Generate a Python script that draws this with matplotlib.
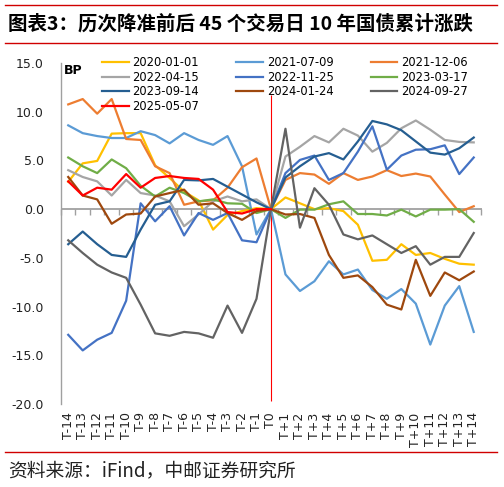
import matplotlib
matplotlib.use("Agg")
import matplotlib.pyplot as plt
from matplotlib.lines import Line2D

# x categories: T-14 ... T0 ... T+14
days = [f"T-{i}" for i in range(14, 0, -1)] + ["T0"] + [f"T+{i}" for i in range(1, 15)]

# cumulative change of 10Y CGB yield (BP) around each RRR cut
s_20200101 = [2.8, 4.7, 4.95, 7.75, 7.8, 7.8, 4.5, 3.2, 1.8, 0.9, -2.1, -0.6, -0.2, 0.1, 0,
              1.2, 0.6, 0.0, 0.1, -0.2, -1.6, -5.3, -5.2, -3.6, -4.7, -4.5, -5.1, -5.6, -5.7]
s_20210709 = [8.6, 7.8, 7.5, 7.3, 7.3, 8.0, 7.6, 6.75, 7.8, 7.1, 6.6, 7.5, 4.4, -2.6, 0,
              -6.7, -8.4, -7.4, -5.35, -6.7, -6.2, -8.3, -9.2, -8.2, -9.7, -13.9, -9.9, -7.9, -12.6]
s_20211206 = [10.75, 11.3, 9.8, 11.3, 7.2, 7.1, 4.4, 3.7, 0.45, 0.8, 0.9, 2.2, 4.3, 5.2, 0,
              3.0, 3.7, 3.55, 2.6, 3.7, 3.0, 3.35, 4.0, 3.4, 3.65, 3.35, 1.5, -0.3, 0.3]
s_20220415 = [4.0, 3.3, 2.85, 1.4, 3.0, 1.65, 1.4, 0.8, -1.75, -0.55, 0.8, 1.3, 0.8, 1.0, 0,
              5.4, 6.4, 7.5, 6.85, 8.25, 7.55, 5.9, 6.8, 8.3, 9.1, 8.15, 7.1, 6.9, 6.85]
s_20221125 = [-12.9, -14.5, -13.4, -12.7, -9.4, 0.6, -1.25, 0.3, -2.7, -0.4, -1.1, -0.4, -3.2, -3.4, 0,
              3.7, 5.05, 5.5, 3.0, 3.7, 5.9, 8.5, 4.05, 5.5, 6.1, 6.15, 6.55, 3.6, 5.3]
s_20230317 = [5.3, 4.4, 3.7, 5.1, 4.2, 2.4, 1.3, 2.2, 1.65, 0.8, 1.0, 0.6, 0.55, -0.4, 0,
              -0.9, -0.05, -0.05, 0.5, 0.8, -0.5, -0.5, -0.65, -0.05, -0.75, -0.05, -0.05, 0.0, -1.3]
s_20230914 = [-3.6, -2.3, -3.6, -4.7, -4.9, -2.1, 0.45, 0.8, 3.0, 2.95, 3.1, 2.3, 1.5, 0.7, 0,
              3.25, 4.4, 5.4, 5.75, 5.1, 6.95, 9.05, 8.7, 8.1, 6.95, 5.8, 5.6, 6.25, 7.35]
s_20240124 = [3.3, 1.4, 1.0, -1.5, -0.55, -0.45, 1.3, 1.65, 2.0, 0.45, 0.6, -0.4, -1.1, -0.2, 0,
              -0.55, -0.5, -0.9, -4.7, -7.05, -6.8, -8.0, -9.8, -10.3, -5.2, -8.9, -6.5, -7.3, -6.4]
s_20240927 = [-3.2, -4.5, -5.7, -6.5, -7.05, -9.8, -12.75, -13.0, -12.6, -12.75, -13.2, -9.9, -12.7, -9.2, 0,
              8.25, -1.9, 2.15, 0.45, -2.6, -3.1, -2.7, -3.6, -4.5, -3.8, -5.7, -4.9, -4.9, -2.45]
s_20250507 = [2.85, 1.4, 2.2, 2.0, 3.6, 2.2, 3.2, 3.4, 3.2, 3.1, 2.0, -0.3, -0.45, 0.0, 0]

series = [
    ("2020-01-01", s_20200101, "#FFC000"),
    ("2021-07-09", s_20210709, "#5B9BD5"),
    ("2021-12-06", s_20211206, "#ED7D31"),
    ("2022-04-15", s_20220415, "#A5A5A5"),
    ("2022-11-25", s_20221125, "#4472C4"),
    ("2023-03-17", s_20230317, "#70AD47"),
    ("2023-09-14", s_20230914, "#255E91"),
    ("2024-01-24", s_20240124, "#9E480E"),
    ("2024-09-27", s_20240927, "#636363"),
    ("2025-05-07", s_20250507, "#FF0000"),
]

W, H = 504, 487
fig = plt.figure(figsize=(W / 100, H / 100), dpi=100)
ax = fig.add_axes([60.7 / W, 1 - 404 / H, 421 / W, 341 / H])

x = list(range(len(days)))

# zero axis drawn first so the series sit on top of it
ax.axhline(0, color="#A0A0A0", lw=1.3, zorder=1)

lines = {}
for name, vals, col in series:
    ln, = ax.plot(x[:len(vals)], vals, color=col, lw=1.6, label=name, zorder=2)
    lines[name] = ln

# vertical marker at T0
ax.vlines(14, -19.7, 11.7, color="red", lw=0.8, zorder=1.5)

ax.set_xlim(-0.52, 28.55)
ax.set_ylim(-20, 15)
ax.set_yticks([15, 10, 5, 0, -5, -10, -15, -20])
ax.set_yticklabels([f"{v:.1f}" for v in [15, 10, 5, 0, -5, -10, -15, -20]])
ax.tick_params(axis="y", length=0, pad=12, labelsize=9, colors="#222222")
ax.set_xticks(x)
ax.set_xticklabels(days, rotation=90, va="top", ha="center")
ax.tick_params(axis="x", length=0, pad=6, labelsize=9, colors="#222222")

for s in ["top", "right", "bottom"]:
    ax.spines[s].set_visible(False)
ax.spines["left"].set_color("#A0A0A0")
ax.spines["left"].set_linewidth(1.0)

# small tick marks on the zero axis, between categories, pointing down
zx = ax.secondary_xaxis(20 / 35)
zx.set_xticks([k + 0.5 for k in range(-1, 29)])
zx.set_xticklabels([])
zx.tick_params(axis="x", which="both", direction="in", length=4, width=1, color="#A0A0A0")
for s in zx.spines.values():
    s.set_visible(False)

order = ["2020-01-01", "2022-04-15", "2023-09-14", "2025-05-07",
         "2021-07-09", "2022-11-25", "2024-01-24",
         "2021-12-06", "2023-03-17", "2024-09-27"]
ax.legend([lines[n] for n in order], order, ncol=3, loc="upper left",
          bbox_to_anchor=(102 / W, 1 - 56 / H), bbox_transform=fig.transFigure,
          frameon=False, fontsize=8.3, borderpad=0, borderaxespad=0,
          handlelength=2.3, handletextpad=0.35, columnspacing=3.2, labelspacing=0.15)

fig.text(64 / W, 1 - 64 / H, "BP", fontsize=9, fontweight="bold", va="top", ha="left")

# header / footer
cjk = ["Noto Sans CJK SC", "DejaVu Sans"]
fig.text(8 / W, 1 - 24 / H, "图表3：历次降准前后 45 个交易日 10 年国债累计涨跌",
         fontsize=14, fontweight="bold", family=cjk, va="center", ha="left")
fig.text(8 / W, 1 - 471 / H, "资料来源：iFind，中邮证券研究所",
         fontsize=13.5, family=cjk, va="center", ha="left", color="#222222")
for yy in [5, 43, 452]:
    fig.add_artist(Line2D([5 / W, 497 / W], [1 - yy / H, 1 - yy / H],
                          transform=fig.transFigure, color="#D00000", lw=1.0))

fig.savefig("out.png", dpi=100)
